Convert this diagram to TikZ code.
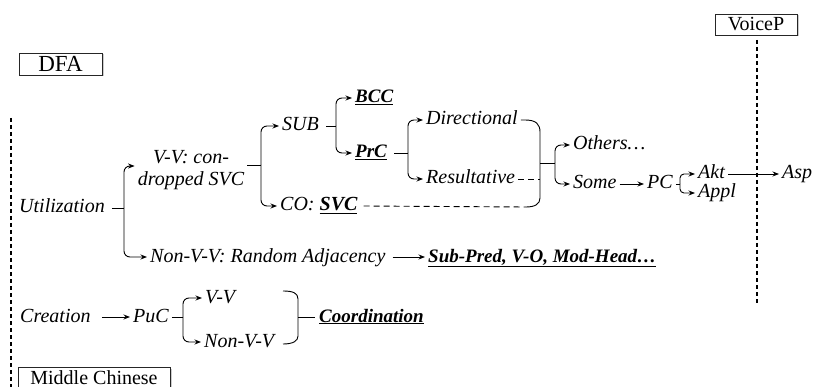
\documentclass[tikz,border=0pt]{standalone}
\usepackage{fontspec}
\setmainfont{Liberation Serif}
\usetikzlibrary{arrows.meta,shadows}
\begin{document}
\begin{tikzpicture}[x=1pt,y=-1pt,
  lab/.style={font=\itshape\fontsize{20}{22}\selectfont, inner xsep=3pt, inner ysep=0pt,
    text height=14pt, text depth=4pt, anchor=west},
  key/.style={lab, font=\bfseries\itshape\fontsize{19}{22}\selectfont},
  conn/.style={line width=0.9pt},
  arr/.style={conn, -{Stealth[length=6.5pt,width=5pt]}},
  arm/.style={arr, rounded corners=6pt},
  dashline/.style={conn, dash pattern=on 6pt off 4pt},
  tag/.style={draw=black!85, line width=0.8pt, fill=white, inner sep=0pt,
    font=\fontsize{20}{22}\selectfont,
    drop shadow={shadow xshift=1.5pt, shadow yshift=-1.5pt, opacity=0.4}},
  divider/.style={line width=2pt, dash pattern=on 4pt off 3pt}
]
\useasboundingbox (0,0) rectangle (813,387);

% period dividers
\draw[divider] (11,118) -- (11,392);
\draw[divider] (757,40) -- (757,305);

% period tags
\node[tag, minimum width=83pt, minimum height=22pt, font=\fontsize{23}{24}\selectfont] (dfa) at (60.5,64) {DFA};
\node[tag, minimum width=82pt, minimum height=21pt] (voice) at (756,24.5) {VoiceP};
\node[tag, minimum width=152pt, minimum height=21pt] (mc) at (94,377.5) {Middle Chinese};

% labels
\node[lab] (util) at (16,208) {Utilization};
\node[font=\itshape\fontsize{20}{22}\selectfont, align=center, inner xsep=3pt, inner ysep=0pt] (vv) at (191,170) {V-V: con-\\dropped SVC};
\node[lab] (sub) at (279,126) {SUB};
\node[lab] (co) at (277,206) {CO: \textbf{\underline{SVC}}};
\node[key] (bcc) at (352,98) {\underline{BCC}};
\node[key] (prc) at (352,153) {\underline{PrC}};
\node[lab] (dir) at (423,120) {Directional};
\node[lab] (res) at (423,179) {Resultative};
\node[lab] (oth) at (570,145) {Others…};
\node[lab] (some) at (570,184) {Some};
\node[lab] (pc) at (644,184) {PC};
\node[lab] (akt) at (695,174) {Akt};
\node[lab] (appl) at (695,193) {Appl};
\node[lab] (asp) at (779,174) {Asp};
\node[lab] (nonvv) at (147,257) {Non-V-V: Random Adjacency};
\node[key] (sp) at (425,257) {\underline{Sub-Pred, V-O, Mod-Head…}};
\node[lab] (crea) at (17,317) {Creation};
\node[lab] (puc) at (130,317) {PuC};
\node[lab] (vv2) at (202,298) {V-V};
\node[lab] (nvv2) at (201,342) {Non-V-V};
\node[key] (coord) at (316,317) {\underline{Coordination}};

% junction points
\coordinate (j1) at (124,208);
\coordinate (j2) at (261,165);
\coordinate (j3) at (336,126);
\coordinate (j4) at (408,153);
\coordinate (bt) at (525,120);
\coordinate (bb) at (526,207);
\coordinate (bm) at (540,163);
\coordinate (j5) at (555,163);
\coordinate (j6) at (680,184);
\coordinate (j7) at (183,317);
\coordinate (ct) at (283,291);
\coordinate (cb) at (283,344);
\coordinate (cm) at (298,317);

% Utilization branches
\draw[conn] ([xshift=4pt]util.east) -- (j1);
\draw[arm] (j1) |- ([yshift=4pt]vv.west);
\draw[arm] (j1) |- (nonvv.west);

% V-V branches
\draw[conn] ([yshift=5pt]vv.east) -- (j2);
\draw[arm] (j2) |- (sub.west);
\draw[arm] (j2) |- (co.west);

% SUB branches
\draw[conn] ([xshift=4pt]sub.east) -- (j3);
\draw[arm] (j3) |- (bcc.west);
\draw[arm] (j3) |- (prc.west);

% PrC branches
\draw[conn] ([xshift=4pt]prc.east) -- (j4);
\draw[arm] (j4) |- (dir.west);
\draw[arm] (j4) |- (res.west);

% brace gathering Directional, Resultative and CO: SVC
\draw[conn] (dir.east) -- (bt) .. controls (536,120) and (540,124) .. (540,132)
  -- (540,198) .. controls (540,204) and (535,207) .. (bb);
\draw[dashline] (res.east) -- (540,179);
\draw[dashline] ([xshift=3pt]co.east) -- (bb);
\draw[conn] (bm) -- (j5);
\draw[arm] (j5) |- (oth.west);
\draw[arm] (j5) |- (some.west);

% Some -> PC -> Akt/Appl -> Asp
\draw[arr] (some.east) -- (pc.west);
\draw[conn] (pc.east) -- (j6);
\draw[arm, rounded corners=4pt] (j6) |- (akt.west);
\draw[arm, rounded corners=4pt] (j6) |- (appl.west);
\draw[arr] (akt.east) -- (asp.west);

% Non-V-V
\draw[arr, shorten <=4pt] (nonvv.east) -- (sp.west);

% Creation
\draw[arr, shorten <=8pt] (crea.east) -- (puc.west);
\draw[conn] (puc.east) -- (j7);
\draw[arm] (j7) |- (vv2.west);
\draw[arm] (j7) |- (nvv2.west);
\draw[conn] (ct) .. controls (293,291) and (298,293) .. (298,299)
  -- (298,336) .. controls (298,341) and (293,344) .. (cb);
\draw[conn] (cm) -- ([xshift=-1pt]coord.west);
\end{tikzpicture}
\end{document}
